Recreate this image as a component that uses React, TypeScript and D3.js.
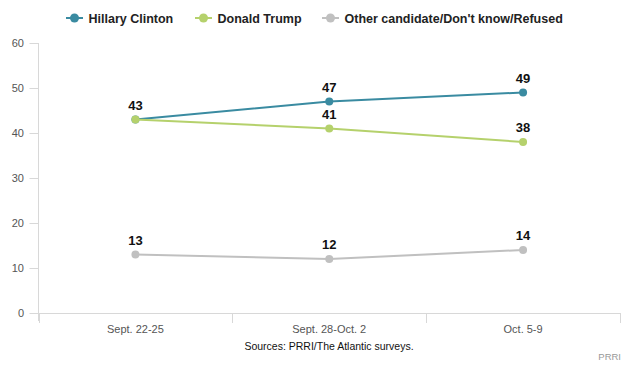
import React from "react";
import * as d3 from "d3";

const categories = ["Sept. 22-25", "Sept. 28-Oct. 2", "Oct. 5-9"];
const clinton = [43, 47, 49];
const trump = [43, 41, 38];
const other = [13, 12, 14];
const yTicks = [0, 10, 20, 30, 40, 50, 60];
const seriesNames = ["Hillary Clinton", "Donald Trump", "Other candidate/Don't know/Refused"];
const seriesColors = ["#3a8ba1", "#b5d16c", "#c0c0c0"];

export default function App() {
  const W = 630, H = 365;
  const left = 38.5, right = 620, top = 43, bottom = 313;
  const x = d3.scaleBand<string>().domain(categories).range([left, right]);
  const y = d3.scaleLinear().domain([0, 60]).range([bottom, top]);
  const cx = (c: string) => (x(c) as number) + x.bandwidth() / 2;
  const line = d3.line<number>().x((_, i) => cx(categories[i])).y((d) => y(d));
  const series = [clinton, trump, other];
  const font = "Arial, 'Liberation Sans', sans-serif";
  const legendX = [74.5, 203.5, 330.5];
  return (
    <svg width={W} height={H} style={{ position: "absolute", left: 0, top: 0, fontFamily: font }}>
      <rect width={W} height={H} fill="#fff" />
      {/* legend */}
      {seriesNames.map((n, i) => (
        <g key={n} transform={`translate(${legendX[i]},18)`}>
          <line x1={-8.5} x2={8.5} y1={0} y2={0} stroke={seriesColors[i]} strokeWidth={2} />
          <circle cx={0} cy={0} r={4.5} fill={seriesColors[i]} />
          <text x={14} y={4.5} fontSize={12.5} fontWeight="bold" fill="#222">{n}</text>
        </g>
      ))}
      {/* y axis */}
      <line x1={left} x2={left} y1={top} y2={bottom + 8} stroke="#d8d8d8" strokeWidth={1} />
      {yTicks.map((t) => (
        <g key={t}>
          <line x1={left - 9} x2={left} y1={Math.round(y(t)) + 0.5} y2={Math.round(y(t)) + 0.5} stroke="#d8d8d8" />
          <text x={24} y={y(t) + 4} fontSize={11} textAnchor="end" fill="#555">{t}</text>
        </g>
      ))}
      {/* x axis */}
      <line x1={left} x2={right} y1={bottom + 0.5} y2={bottom + 0.5} stroke="#d8d8d8" />
      {[...categories.map((c) => x(c) as number), right].map((v, i) => (
        <line key={i} x1={Math.round(v) + 0.5} x2={Math.round(v) + 0.5} y1={bottom} y2={bottom + 10} stroke="#d8d8d8" />
      ))}
      {categories.map((c) => (
        <text key={c} x={cx(c)} y={333} fontSize={11} textAnchor="middle" fill="#555">{c}</text>
      ))}
      <text x={329} y={350} fontSize={10.5} textAnchor="middle" fill="#111">Sources: PRRI/The Atlantic surveys.</text>
      <text x={621} y={360} fontSize={9.5} textAnchor="end" fill="#999">PRRI</text>
      {/* series */}
      {series.map((s, si) => (
        <g key={si}>
          <path d={line(s) as string} fill="none" stroke={seriesColors[si]} strokeWidth={2} />
          {s.map((v, i) => (
            <circle key={i} cx={cx(categories[i])} cy={y(v)} r={4} fill={seriesColors[si]} />
          ))}
        </g>
      ))}
      {/* labels (first point of Trump overlaps Clinton's label) */}
      {series.map((s, si) =>
        s.map((v, i) =>
          si === 1 && i === 0 ? null : (
            <text key={`${si}-${i}`} x={cx(categories[i])} y={y(v) - 10} fontSize={13} fontWeight="bold" textAnchor="middle" fill="#111">{v}</text>
          )
        )
      )}
    </svg>
  );
}
